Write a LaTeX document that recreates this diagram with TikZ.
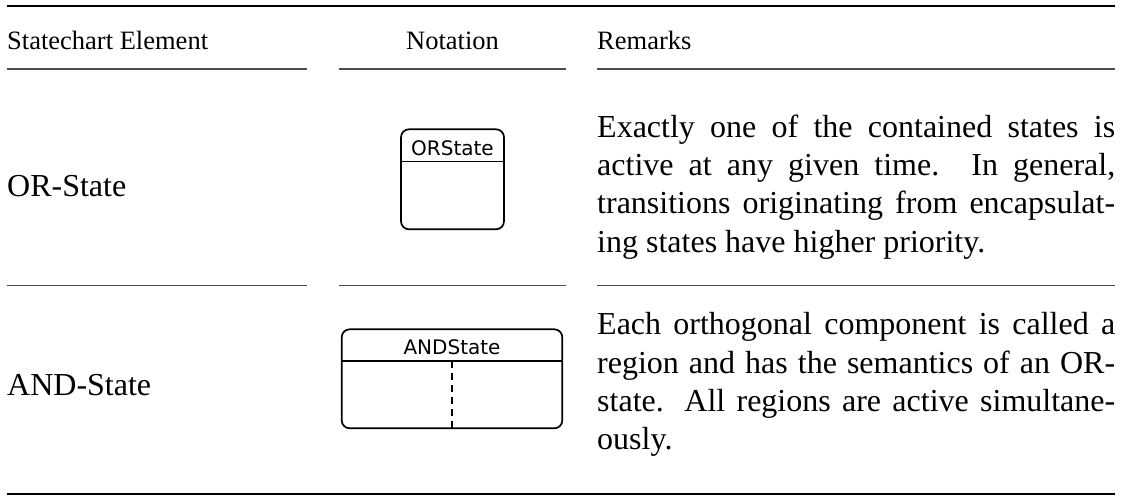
\documentclass[tikz,border=0pt]{standalone}
\usepackage{fontspec}
\setmainfont{Liberation Serif}
\newfontfamily\notationfont{DejaVu Sans}
\usetikzlibrary{calc}
\begin{document}
\begin{tikzpicture}[x=1pt,y=-1pt,
  heavyrule/.style={line width=2pt},
  lightrule/.style={line width=1.1pt, black!70},
  headtext/.style={font=\fontsize{26.5}{32}\selectfont, inner sep=0pt},
  bodytext/.style={font=\fontsize{32}{38.4}\selectfont, inner sep=0pt},
  remark/.style={bodytext, text width=518pt, align=justify, anchor=base west},
  statebox/.style={draw, line width=1.7pt, rounded corners=8pt, inner sep=0pt},
  statename/.style={font=\notationfont\fontsize{20}{24}\selectfont, inner sep=0pt, anchor=base},
  regionline/.style={line width=1.7pt, dash pattern=on 7pt off 5pt}]

\useasboundingbox (0,0) rectangle (1121,496);

% table rules
\draw[heavyrule] (7,5.5) -- (1115,5.5);
\foreach \y in {69,285.5} {
  \draw[lightrule] (7,\y) -- (307,\y);
  \draw[lightrule] (339,\y) -- (566,\y);
  \draw[lightrule] (597,\y) -- (1115,\y);
}
\draw[heavyrule] (7,494) -- (1115,494);

% header
\node[headtext, anchor=base west] (hElem) at (7,49) {Statechart Element};
\node[headtext, anchor=base] (hNot) at (452.5,49) {Notation};
\node[headtext, anchor=base west] (hRem) at (597,49) {Remarks};

% OR-State row
\node[bodytext, anchor=base west] (orName) at (7,196) {OR-State};
\node[statebox, minimum width=103pt, minimum height=100pt] (orBox) at (452.5,179.3) {};
\coordinate (orSep) at ($(orBox.north)+(0,33)$);
\draw[line width=1.7pt] (orBox.west |- orSep) -- (orBox.east |- orSep);
\node[statename] (orLabel) at ($(orBox.north)+(0,26.7)$) {ORState};
\node[remark] (orRem) at (597,137) {Exactly one of the contained states is\linebreak
active at any given time.  In general,\linebreak
transitions originating from encapsulat-\linebreak
ing states have higher priority.};

% AND-State row
\node[bodytext, anchor=base west] (andName) at (7,395) {AND-State};
\node[statebox, minimum width=220.6pt, minimum height=99pt] (andBox) at (452,378.8) {};
\coordinate (andSep) at ($(andBox.north)+(0,32.4)$);
\draw[line width=1.7pt] (andBox.west |- andSep) -- (andBox.east |- andSep);
\draw[regionline] (andSep) -- (andBox.south);
\node[statename] (andLabel) at ($(andBox.north)+(0,25.7)$) {ANDState};
\node[remark] (andRem) at (597,334.7) {Each orthogonal component is called a\linebreak
region and has the semantics of an OR-\linebreak
state.  All regions are active simultane-\linebreak
ously.};
\end{tikzpicture}
\end{document}
